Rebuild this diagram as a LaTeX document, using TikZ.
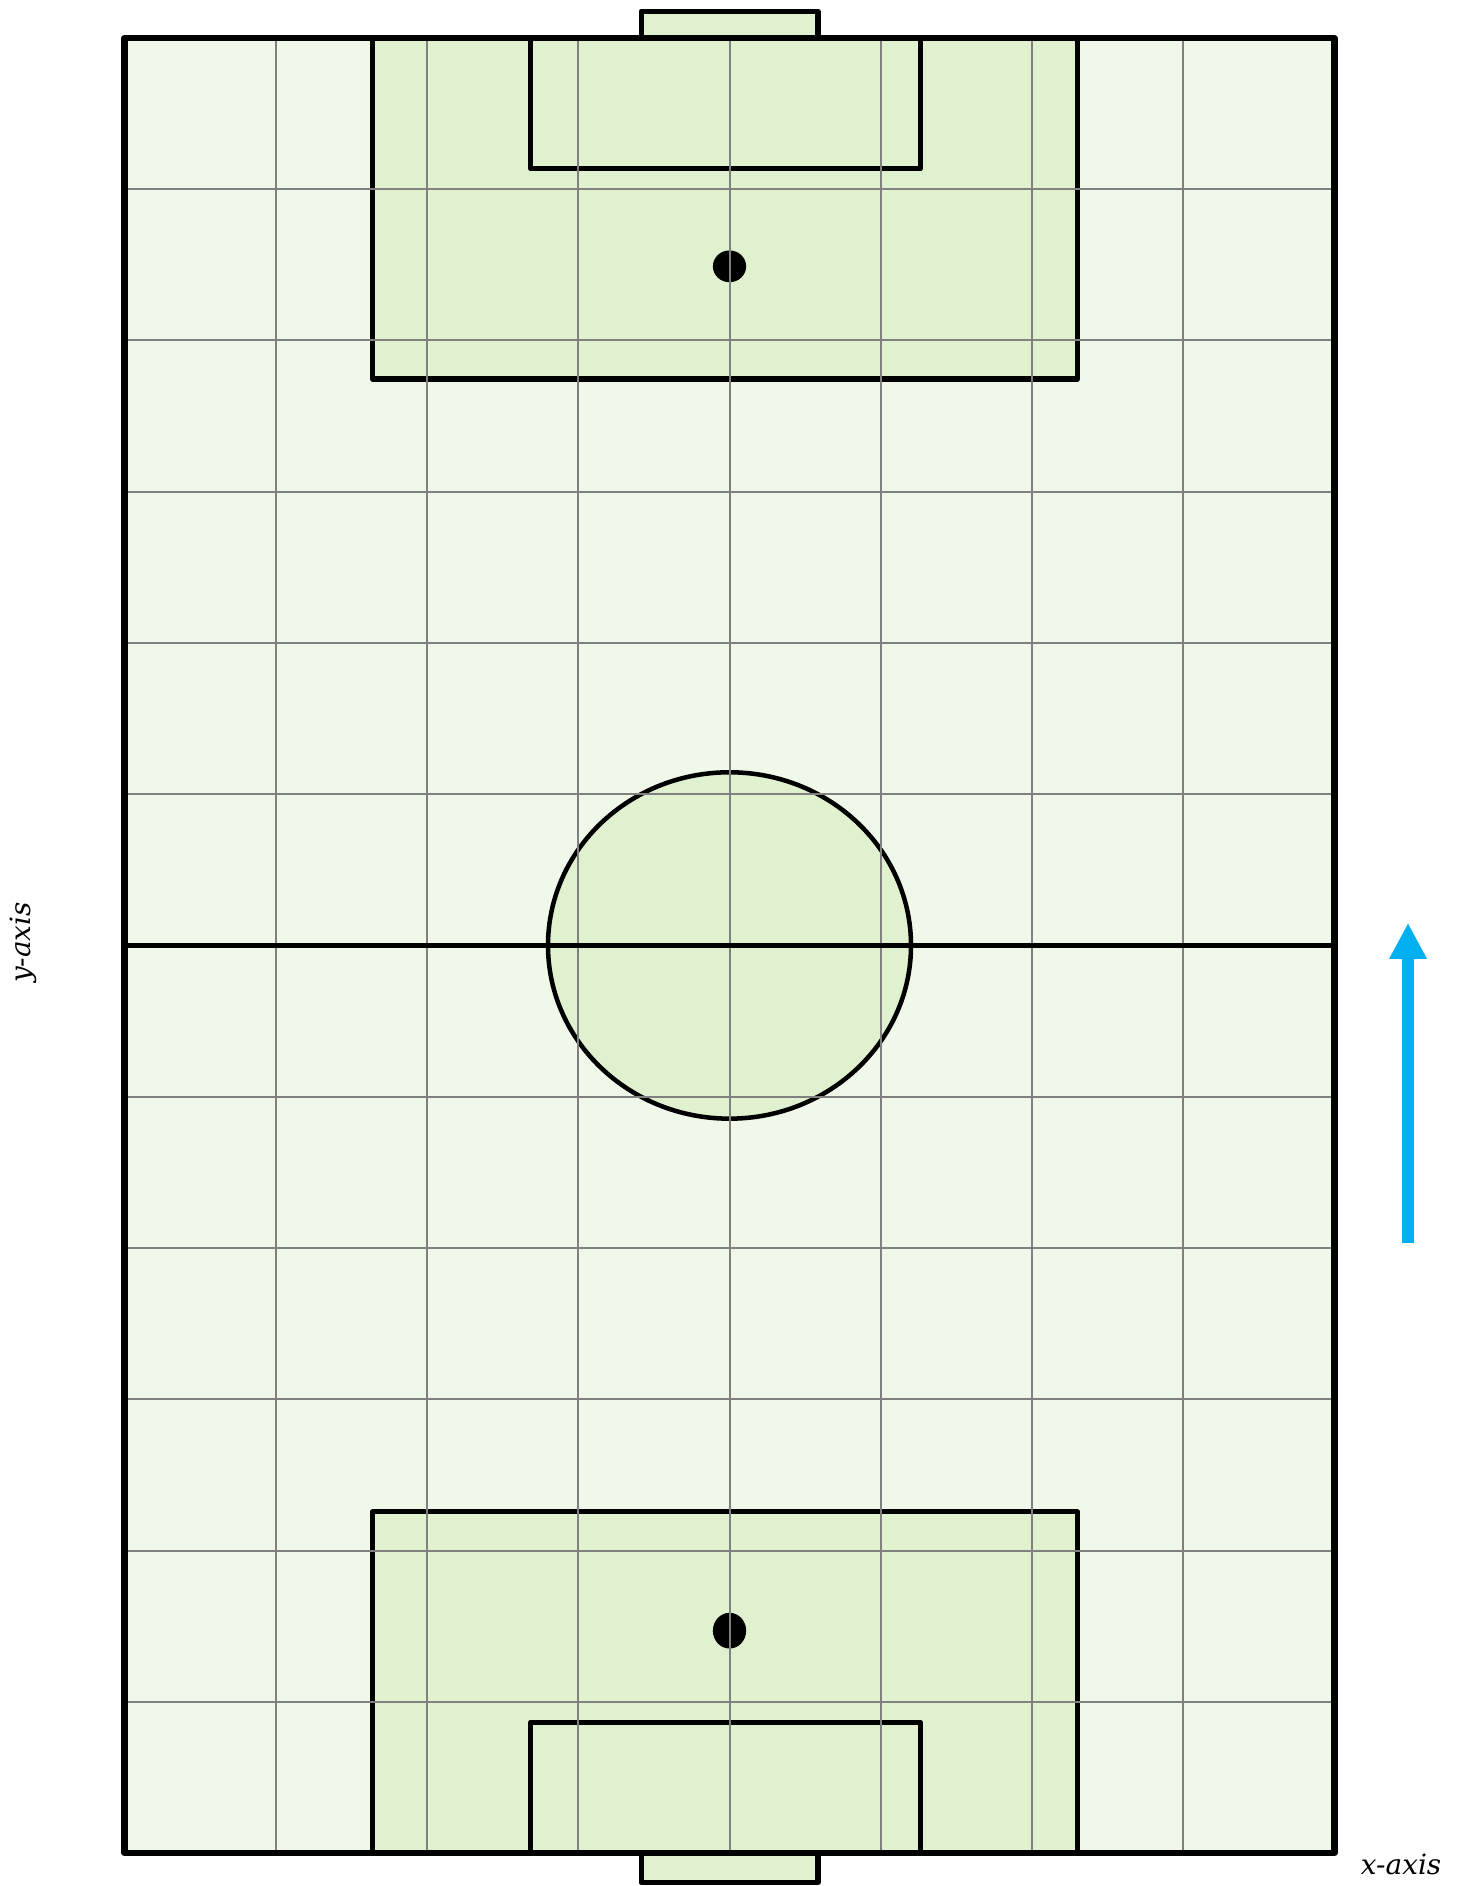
\documentclass[tikz,border=0pt]{standalone}
\usepackage{fontspec}
\setmainfont{DejaVu Serif}
\usetikzlibrary{arrows.meta}

\definecolor{grassLight}{RGB}{240,249,233}
\definecolor{grassDark}{RGB}{224,241,207}
\definecolor{gridGray}{RGB}{128,128,128}
\definecolor{dirBlue}{RGB}{0,176,240}

\begin{document}
\begin{tikzpicture}[x=2cm, y=2cm, line join=round,
    border/.style={line width=2.3pt},
    marking/.style={line width=1.9pt, fill=grassDark},
    gridline/.style={gridGray, line width=0.75pt},
    axislabel/.style={font=\itshape\fontsize{10.5}{12}\selectfont, inner sep=0pt}]

    % --- parameters ---
    \def\W{8}        % pitch width (grid cells)
    \def\H{12}       % pitch length (grid cells)
    \def\Pl{1.64}    % penalty area left
    \def\Pr{6.30}    % penalty area right
    \def\Pd{2.255}   % penalty area depth
    \def\Gl{2.685}   % goal area left
    \def\Gr{5.26}    % goal area right
    \def\Gd{0.865}   % goal area depth

    \useasboundingbox (-0.823,-0.218) rectangle (8.850,12.251);

    % --- pitch surface ---
    \fill[grassLight] (0,0) rectangle (\W,\H);

    % --- goals ---
    \draw[marking] (3.415,\H) rectangle (4.585,12.177);
    \draw[marking] (3.415,0) rectangle (4.585,-0.195);

    % --- penalty and goal areas ---
    \draw[marking] (\Pl,\H) rectangle (\Pr,\H-\Pd);
    \draw[marking] (\Gl,\H) rectangle (\Gr,\H-\Gd);
    \draw[marking] (\Pl,0) rectangle (\Pr,\Pd);
    \draw[marking] (\Gl,0) rectangle (\Gr,\Gd);

    % --- centre circle ---
    \draw[line width=1.7pt, fill=grassDark] (4,6) ellipse [x radius=1.2, y radius=1.145];

    % --- penalty spots ---
    \fill (4,10.49) ellipse [x radius=0.11, y radius=0.105];
    \fill (4,1.47) ellipse [x radius=0.11, y radius=0.118];

    % --- grid ---
    \foreach \x in {1,...,7}
        \draw[gridline] (\x,0) -- (\x,\H);
    \foreach \y in {1,...,5,7,8,...,11}
        \draw[gridline] (0,\y) -- (\W,\y);

    % --- halfway line and boundary ---
    \draw[line width=1.8pt] (0,6) -- (\W,6);
    \draw[border] (0,0) rectangle (\W,\H);

    % --- direction of play ---
    \coordinate (arrowTail) at (8.486,4.033);
    \coordinate (arrowTip) at (8.486,6.149);
    \draw[-{Triangle[width=13.2pt, length=13.5pt]}, dirBlue, line width=4.5pt] (arrowTail) -- (arrowTip);

    % --- axis labels ---
    \node[axislabel, rotate=90] (yLabel) at (-0.671,6.02) {y-axis};
    \node[axislabel] (xLabel) at (8.44,-0.073) {x-axis};

\end{tikzpicture}
\end{document}
